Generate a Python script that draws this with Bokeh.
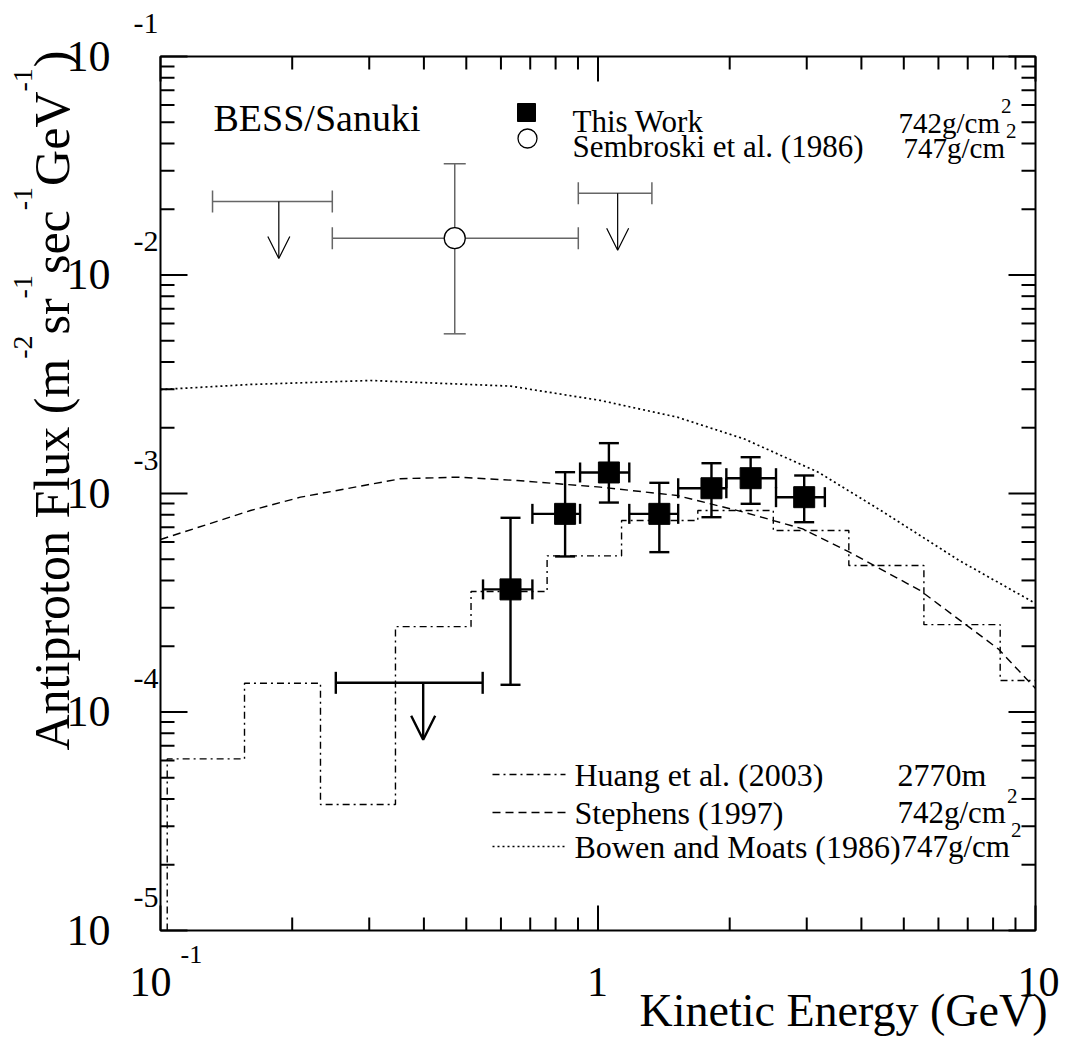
import math
from bokeh.plotting import figure
from bokeh.models import Label, Arrow, OpenHead, Range1d
from bokeh.embed import file_html
from bokeh.resources import INLINE

# ---------------- data ----------------
# This Work (BESS/Sanuki, 742 g/cm^2)
this_e    = [0.631, 0.841, 1.059, 1.381, 1.817, 2.233, 2.960]
this_e_lo = [0.546, 0.708, 0.910, 1.179, 1.525, 1.965, 2.552]
this_e_hi = [0.708, 0.910, 1.179, 1.525, 1.965, 2.552, 3.300]
this_flux = [3.64e-4, 8.07e-4, 1.248e-3, 8.07e-4, 1.057e-3, 1.175e-3, 9.62e-4]
this_f_hi = [7.74e-4, 1.252e-3, 1.70e-3, 1.119e-3, 1.376e-3, 1.466e-3, 1.209e-3]
this_f_lo = [1.332e-4, 5.15e-4, 9.09e-4, 5.39e-4, 7.79e-4, 8.97e-4, 7.39e-4]
# This Work upper limit
this_ul_e  = [0.3985]
this_ul_lo = [0.2516]
this_ul_hi = [0.545]
this_ul    = [1.36e-4]

# Sembroski et al. (1986)
semb_e    = [0.4705]
semb_e_lo = [0.247]
semb_e_hi = [0.9015]
semb_flux = [0.01474]
semb_f_hi = [0.0323]
semb_f_lo = [5.38e-3]
semb_ul_e  = [0.1864, 1.109]
semb_ul_lo = [0.1315, 0.9015]
semb_ul_hi = [0.247, 1.328]
semb_ul    = [0.0217, 0.02368]

# Huang et al. (2003) histogram
huang_edges = [0.1036, 0.1556, 0.2321, 0.3444, 0.5126, 0.765, 1.132, 1.691,
               2.516, 3.744, 5.558, 8.304, 12.4]
huang_flux = [6.10e-5, 1.354e-4, 3.77e-5, 2.46e-4, 3.56e-4, 5.18e-4, 7.52e-4,
              8.36e-4, 6.77e-4, 4.68e-4, 2.51e-4, 1.393e-4]

# Stephens (1997)
stephens_e = [0.1, 0.1606, 0.2089, 0.3536, 0.4768, 0.6537, 1.013, 1.518, 2.156,
              2.936, 3.757, 5.445, 8.217, 10.0]
stephens_flux = [6.16e-4, 8.36e-4, 9.62e-4, 1.168e-3, 1.188e-3, 1.147e-3, 1.069e-3,
                 9.79e-4, 8.21e-4, 6.89e-4, 5.39e-4, 3.60e-4, 1.946e-4, 1.281e-4]

# Bowen and Moats (1986)
bowen_e = [0.1, 0.1606, 0.302, 0.631, 1.013, 1.518, 2.156, 3.187, 4.432, 6.69, 10.0]
bowen_flux = [2.99e-3, 3.155e-3, 3.29e-3, 3.10e-3, 2.666e-3, 2.235e-3, 1.779e-3,
              1.252e-3, 8.36e-4, 4.94e-4, 3.14e-4]

x_major = [0.1, 1, 10]
x_minor = [m * 10 ** k for k in (-1, 0) for m in range(2, 10)]
y_major = [1e-5, 1e-4, 1e-3, 1e-2, 1e-1]
y_minor = [m * 10 ** k for k in range(-5, -1) for m in range(2, 10)]
x_tick_text = ["10", "1", "10"]
y_tick_exp = ["-5", "-4", "-3", "-2", "-1"]

# ---------------- layout ----------------
W, H = 1065, 1044
L, R, T, B = 160, 1035, 56, 930           # data box in page pixels
XMIN, XMAX, YMIN, YMAX = 0.1, 10.0, 1e-5, 1e-1
FONT = "Liberation Serif"
LX = math.log10(XMAX) - math.log10(XMIN)
LY = math.log10(YMAX) - math.log10(YMIN)

def dxs(sx):
    return 10 ** (math.log10(XMIN) + (sx - L) / (R - L) * LX)

def dys(sy):
    return 10 ** (math.log10(YMAX) - (sy - T) / (B - T) * LY)

def sy_of(v):
    return T + (math.log10(YMAX) - math.log10(v)) / LY * (B - T)

# the frame covers the whole page; the data box is drawn inside it
p = figure(width=W, height=H, x_axis_type="log", y_axis_type="log",
           x_range=Range1d(dxs(0), dxs(W)), y_range=Range1d(dys(H), dys(0)),
           x_axis_location=None, y_axis_location=None,
           output_backend="svg", toolbar_location=None, title=None, min_border=0)
p.background_fill_color = "white"
p.border_fill_color = "white"
p.outline_line_color = None
p.grid.visible = False

# ---------------- axes box and ticks ----------------
p.quad(left=[XMIN], right=[XMAX], bottom=[YMIN], top=[YMAX], fill_color=None,
       line_color="black", line_width=2)

def xticks(vals, ln):
    x0, y0, x1, y1 = [], [], [], []
    for v in vals:
        x0 += [v, v]; x1 += [v, v]
        y0 += [YMIN, YMAX]; y1 += [dys(B - ln), dys(T + ln)]
    p.segment(x0, y0, x1, y1, line_color="black", line_width=2)

def yticks(vals, ln):
    x0, y0, x1, y1 = [], [], [], []
    for v in vals:
        y0 += [v, v]; y1 += [v, v]
        x0 += [XMIN, XMAX]; x1 += [dxs(L + ln), dxs(R - ln)]
    p.segment(x0, y0, x1, y1, line_color="black", line_width=2)

xticks(x_major, 25)
xticks(x_minor, 13)
yticks(y_major, 27)
yticks(y_minor, 14)

# ---------------- curves ----------------
hx = [huang_edges[0]]
hy = [YMIN]
for i, v in enumerate(huang_flux):
    hx += [huang_edges[i], min(huang_edges[i + 1], XMAX)]
    hy += [v, v]
p.line(hx, hy, line_color="black", line_width=1.4, line_dash="7 4 2 4")
p.line(stephens_e, stephens_flux, line_color="black", line_width=1.4, line_dash="8 5")
p.line(bowen_e, bowen_flux, line_color="black", line_width=1.7, line_dash="2 3")

# ---------------- Sembroski ----------------
GRAY = "#666666"
p.segment(semb_e_lo, semb_flux, semb_e_hi, semb_flux, line_color=GRAY, line_width=1.5)
p.segment(semb_e, semb_f_lo, semb_e, semb_f_hi, line_color=GRAY, line_width=1.5)
p.scatter(semb_e * 2, semb_f_lo + semb_f_hi, marker="dash", size=22,
          line_color=GRAY, line_width=1.5)
p.scatter(semb_e_lo + semb_e_hi, semb_flux * 2, marker="dash", angle=math.pi / 2,
          size=22, line_color=GRAY, line_width=1.5)
p.scatter(semb_e, semb_flux, marker="circle", size=21, fill_color="white",
          line_color="black", line_width=1.3)
p.segment(semb_ul_lo, semb_ul, semb_ul_hi, semb_ul, line_color=GRAY, line_width=1.5)
p.scatter(semb_ul_lo + semb_ul_hi, semb_ul * 2, marker="dash", angle=math.pi / 2,
          size=22, line_color=GRAY, line_width=1.5)
ARROW_DEC = 57.0 / ((B - T) / LY)
for e, u in zip(semb_ul_e, semb_ul):
    p.add_layout(Arrow(x_start=e, y_start=u, x_end=e, y_end=u * 10 ** (-ARROW_DEC),
                       line_color="black", line_width=1.2,
                       end=OpenHead(size=22, line_color="black", line_width=1.2)))

# ---------------- This Work ----------------
p.segment(this_e_lo, this_flux, this_e_hi, this_flux, line_color="black", line_width=2.4)
p.segment(this_e, this_f_lo, this_e, this_f_hi, line_color="black", line_width=2.4)
p.scatter(this_e * 2, this_f_lo + this_f_hi, marker="dash", size=20,
          line_color="black", line_width=2.4)
p.scatter(this_e_lo + this_e_hi, this_flux * 2, marker="dash", angle=math.pi / 2,
          size=20, line_color="black", line_width=2.4)
p.scatter(this_e, this_flux, marker="square", size=21, fill_color="black",
          line_color="black")
p.segment(this_ul_lo, this_ul, this_ul_hi, this_ul, line_color="black", line_width=2.4)
p.scatter(this_ul_lo + this_ul_hi, this_ul * 2, marker="dash", angle=math.pi / 2,
          size=22, line_color="black", line_width=2.4)
for e, u in zip(this_ul_e, this_ul):
    p.add_layout(Arrow(x_start=e, y_start=u, x_end=e, y_end=u * 10 ** (-ARROW_DEC),
                       line_color="black", line_width=2.4,
                       end=OpenHead(size=24, line_color="black", line_width=2.4)))

# ---------------- text helpers ----------------
SHIFT = 0.34   # rendered baseline sits this fraction of the size below the anchor

def label(text, sx, sy, size, align="left", angle=0.0):
    """sx, sy: wanted baseline point in page pixels."""
    if angle:
        ax, ay = sx - SHIFT * size, sy
    else:
        ax, ay = sx, sy - SHIFT * size
    p.add_layout(Label(x=dxs(ax), y=dys(ay), text=text, text_font=FONT,
                       text_font_size=f"{size}px", text_align=align,
                       text_baseline="alphabetic", angle=angle, text_color="black"))

# Times-Roman advance widths (per 1000 em)
TW = {'A': 722, 'n': 500, 't': 278, 'i': 278, 'p': 500, 'r': 333, 'o': 500, ' ': 250,
      'F': 556, 'l': 278, 'u': 500, 'x': 500, '(': 333, 'm': 778, '-': 333, '1': 500,
      '2': 500, 's': 389, 'e': 444, 'c': 444, 'G': 722, 'V': 722, ')': 333,
      '7': 500, '4': 500, 'g': 500, '/': 278}

def twidth(s, size):
    return sum(TW[c] for c in s) / 1000.0 * size

def unit_with_sup(text, sx, base, size, sup_size, rise):
    label(text, sx, base, size)
    label("2", sx + twidth(text, size) + 1, base - rise, sup_size)

# ---------------- tick labels ----------------
for v, ex in zip(y_major, y_tick_exp):
    ty = sy_of(v)
    label("10", 110, ty + 0.338 * 44, 44, align="right")
    label(ex, 158, ty - 33 + 0.338 * 30, 30, align="right")

x_label_center = [150, 597, 1038]
for txt, cx in zip(x_tick_text, x_label_center):
    label(txt, cx, 996, 42, align="center")
label("-1", 180, 963, 26)

# axis titles
label("Kinetic Energy (GeV)", 1047, 1026, 46, align="right")

title_pieces = [("Antiproton Flux (m", False), ("-2", True), ("sr", False), ("-1", True),
                ("sec", False), ("-1", True), ("GeV", False), ("-1", True), (")", False)]
MAIN, SUP = 50, 28
pos = 750.0
for txt, sup in title_pieces:
    size = SUP if sup else MAIN
    xb = 32 if sup else 68
    label(txt, xb, pos, size, align="left", angle=math.pi / 2)
    pos -= twidth(txt, size) + (1 if sup else 0)

# ---------------- annotations / legends ----------------
label("BESS/Sanuki", 213, 130, 38)

p.scatter([dxs(526)], [dys(112)], marker="square", size=18, fill_color="black",
          line_color="black")
p.scatter([dxs(527)], [dys(138)], marker="circle", size=19, fill_color="white",
          line_color="black", line_width=1.3)
label("This Work", 572, 132, 31)
label("Sembroski et al. (1986)", 572, 157, 31)
unit_with_sup("742g/cm", 898, 132, 29, 21, 19)
unit_with_sup("747g/cm", 903, 157, 29, 21, 19)

leg_rows = [(785, "7 4 2 4", 1.4, "Huang et al. (2003)", "2770m", 897, False),
            (823, "8 5", 1.4, "Stephens (1997)", "742g/cm", 897, True),
            (857, "2 3", 1.7, "Bowen and Moats (1986)", "747g/cm", 901, True)]
for base, dash, lw, name, alt, altx, sq in leg_rows:
    ly = dys(base - 11)
    p.line([dxs(492), dxs(565)], [ly, ly], line_color="black", line_width=lw,
           line_dash=dash)
    label(name, 574, base, 32)
    if sq:
        unit_with_sup(alt, altx, base, 31, 21, 20)
    else:
        label(alt, altx, base, 32)

html = file_html(p, INLINE, "Antiproton flux")
with open("out.html", "w") as f:
    f.write(html)
